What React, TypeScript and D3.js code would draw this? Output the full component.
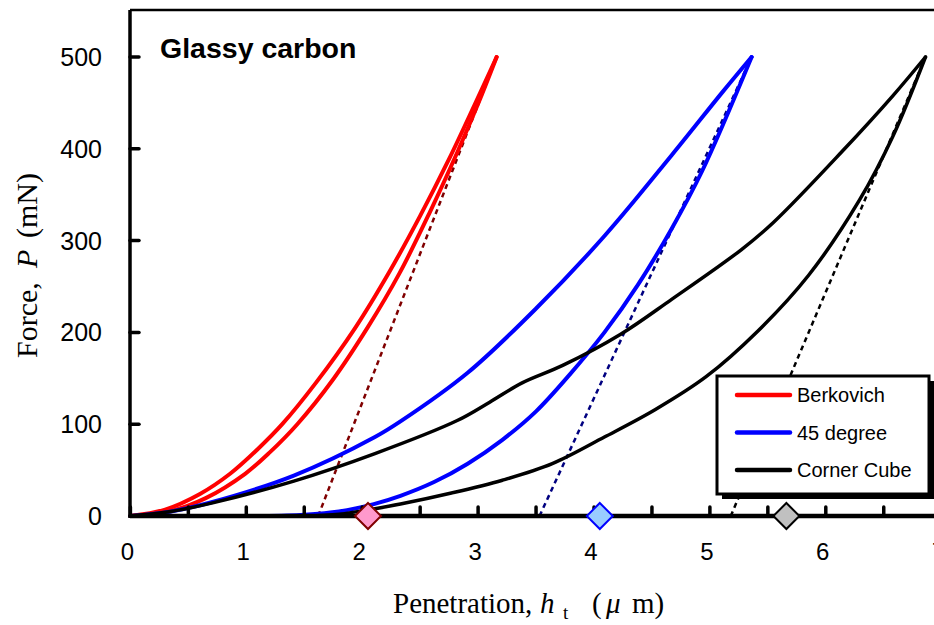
import React from 'react';
import * as d3 from 'd3';

// ---- data (h in µm, P in mN) ----
const berkLoadH = [0, 0.3, 0.6, 0.86, 1.1, 1.31, 1.6, 1.94, 2.23, 2.5, 2.75, 2.97, 3.16];
const berkLoadP = [0, 7, 24, 46, 73, 100, 145, 205, 265, 327, 389, 448, 500];
const berkUnloadH = [0, 0.35, 0.65, 0.99, 1.2, 1.44, 1.75, 2.05, 2.32, 2.58, 2.82, 3.0, 3.16];
const berkUnloadP = [0, 5.5, 19.5, 46, 69, 100, 149, 206, 264, 330, 396, 449, 500];

const degLoadH = [0, 0.35, 0.7, 1.41, 2.11, 2.33, 2.91, 3.5, 4.09, 4.67, 5.11, 5.36];
const degLoadP = [0, 5, 15, 44, 86, 103, 156, 226, 305, 393, 462, 500];
const degUnloadH = [1.13, 1.5, 1.8, 2.1, 2.33, 2.62, 2.91, 3.21, 3.5, 3.79, 4.09, 4.38, 4.67, 4.93, 5.36];
const degUnloadP = [0, 1.5, 5, 13, 22, 37, 57, 83, 114, 154, 200, 252, 313, 375, 500];

const ccLoadH = [0, 0.35, 0.7, 1.41, 2.11, 2.82, 3.1, 3.38, 3.73, 4.23, 4.67, 5.27, 5.55, 6.14, 6.58, 6.86];
const ccLoadP = [0, 5, 14, 38, 68, 104, 124, 145, 164, 198, 236, 290, 320, 397, 458, 500];
const ccUnloadH = [1.5, 1.8, 2.11, 2.33, 2.77, 3.21, 3.64, 4.09, 4.53, 4.97, 5.41, 5.85, 6.29, 6.58, 6.86];
const ccUnloadP = [0, 2, 8, 13, 25, 39, 57, 86, 116, 152, 201, 262, 344, 414, 500];

// tangent (dashed) lines: intercept h -> peak
const tangentNames = ['Berkovich', '45 degree', 'Corner Cube'];
const tangentH0 = [1.62, 3.53, 5.18];
const tangentH1 = [3.16, 5.36, 6.86];
const tangentP1 = [500, 500, 500];

// diamond markers on the axis
const markerH = [2.05, 4.05, 5.66];
const markerP = [0, 0, 0];

const seriesNames = ['Berkovich', '45 degree', 'Corner Cube'];
const seriesColors = ['#ff0000', '#0000ff', '#000000'];
const tangentColors = ['#800000', '#000080', '#000000'];
const markerFills = ['#ff99cc', '#99ccff', '#c0c0c0'];
const markerStrokes = ['#800000', '#0000ff', '#000000'];

const xTicks = d3.range(0, 7.01, 0.5);
const xLabels = [0, 1, 2, 3, 4, 5, 6, 7];
const yTicks = [0, 100, 200, 300, 400, 500];

const W = 934;
const H = 625;

export default function App() {
  const x = d3.scaleLinear().domain([0, 7]).range([130.4, 941.7]);
  const y = d3.scaleLinear().domain([0, 500]).range([516, 57]);

  const line = d3
    .line<[number, number]>()
    .x((d) => x(d[0]))
    .y((d) => y(d[1]))
    .curve(d3.curveCatmullRom.alpha(0.5));

  const pairs = (hs: number[], ps: number[]) => d3.zip(hs, ps) as [number, number][];

  const curves = [
    { d: pairs(berkLoadH, berkLoadP), c: seriesColors[0], w: 4 },
    { d: pairs(berkUnloadH, berkUnloadP), c: seriesColors[0], w: 4 },
    { d: pairs(degLoadH, degLoadP), c: seriesColors[1], w: 4 },
    { d: pairs(degUnloadH, degUnloadP), c: seriesColors[1], w: 4 },
    { d: pairs(ccLoadH, ccLoadP), c: seriesColors[2], w: 3.5 },
    { d: pairs(ccUnloadH, ccUnloadP), c: seriesColors[2], w: 3.5 },
  ];

  const axisY = 516;
  const axisX = 130;

  const legX = 717;
  const legY = 376;
  const legW = 212;
  const legH = 118;

  const serif = "'Times New Roman', 'Liberation Serif', serif";
  const sans = "Arial, 'Liberation Sans', sans-serif";

  return (
    <svg
      width={W}
      height={H}
      style={{ position: 'absolute', left: 0, top: 0, background: '#fff' }}
      viewBox={`0 0 ${W} ${H}`}
    >
      <rect x={0} y={0} width={W} height={H} fill="#fff" />
      {/* tangent dashed lines */}
      {tangentNames.map((n, i) => (
        <line
          key={n}
          x1={x(tangentH0[i])}
          y1={y(0)}
          x2={x(tangentH1[i])}
          y2={y(tangentP1[i])}
          stroke={tangentColors[i]}
          strokeWidth={2.5}
          strokeDasharray="5,4"
        />
      ))}
      {/* curves */}
      {curves.map((c, i) => (
        <path
          key={i}
          d={line(c.d) || ''}
          fill="none"
          stroke={c.c}
          strokeWidth={c.w}
          strokeLinecap="round"
          strokeLinejoin="round"
        />
      ))}
      {/* axes */}
      <line x1={axisX} y1={10} x2={W} y2={10} stroke="#000" strokeWidth={2.5} />
      <line x1={axisX} y1={10} x2={axisX} y2={axisY + 2} stroke="#000" strokeWidth={3.5} />
      <line x1={axisX} y1={axisY} x2={W} y2={axisY} stroke="#000" strokeWidth={4.5} />
      {yTicks.map((t) => (
        <g key={'y' + t}>
          <line
            x1={axisX}
            x2={axisX + 9}
            y1={y(t)}
            y2={y(t)}
            stroke="#000"
            strokeWidth={3.5}
            strokeLinecap="round"
          />
          <text x={102} y={y(t) + 9} textAnchor="end" fontFamily={sans} fontSize={25} fill="#000">
            {t}
          </text>
        </g>
      ))}
      {xTicks.map((t) => (
        <line
          key={'x' + t}
          x1={x(t)}
          x2={x(t)}
          y1={axisY}
          y2={axisY - 9}
          stroke="#000"
          strokeWidth={3.5}
          strokeLinecap="round"
        />
      ))}
      {xLabels.map((t) => (
        <text
          key={'xl' + t}
          x={x(t) - 3}
          y={560}
          textAnchor="middle"
          fontFamily={sans}
          fontSize={24}
          fill="#000"
        >
          {t}
        </text>
      ))}
      {/* markers */}
      {markerH.map((h, i) => {
        const cx = x(h);
        const cy = y(markerP[i]);
        const r = 13;
        return (
          <path
            key={'m' + i}
            d={`M${cx},${cy - r}L${cx + r},${cy}L${cx},${cy + r}L${cx - r},${cy}Z`}
            fill={markerFills[i]}
            stroke={markerStrokes[i]}
            strokeWidth={2}
          />
        );
      })}
      {/* title */}
      <text x={160} y={58} fontFamily={sans} fontWeight="bold" fontSize={28.5} fill="#000">
        Glassy carbon
      </text>
      {/* legend */}
      <rect x={legX + 5} y={legY + 5} width={legW} height={legH} fill="#000" />
      <rect x={legX} y={legY} width={legW} height={legH} fill="#fff" stroke="#000" strokeWidth={3} />
      {seriesNames.map((n, i) => {
        const ly = 395 + i * 37.5;
        return (
          <g key={n}>
            <line
              x1={737}
              x2={790}
              y1={ly}
              y2={ly}
              stroke={seriesColors[i]}
              strokeWidth={4.5}
              strokeLinecap="round"
            />
            <text x={797} y={ly + 7} fontFamily={sans} fontSize={20} fill="#000">
              {n}
            </text>
          </g>
        );
      })}
      {/* axis titles */}
      <text y={613} fontFamily={serif} fontSize={29} fill="#000">
        <tspan x={393}>Penetration,</tspan>
        <tspan x={540} fontStyle="italic">h</tspan>
        <tspan x={563} y={619} fontSize={19}>t</tspan>
        <tspan x={592} y={613}>(</tspan>
        <tspan x={606} fontStyle="italic">μ</tspan>
        <tspan x={632}>m)</tspan>
      </text>
      <text transform="rotate(-90)" y={37} fontFamily={serif} fontSize={30} fill="#000">
        <tspan x={-358}>Force,</tspan>
        <tspan x={-268} fontStyle="italic">P</tspan>
        <tspan x={-238}>(mN)</tspan>
      </text>
    </svg>
  );
}
